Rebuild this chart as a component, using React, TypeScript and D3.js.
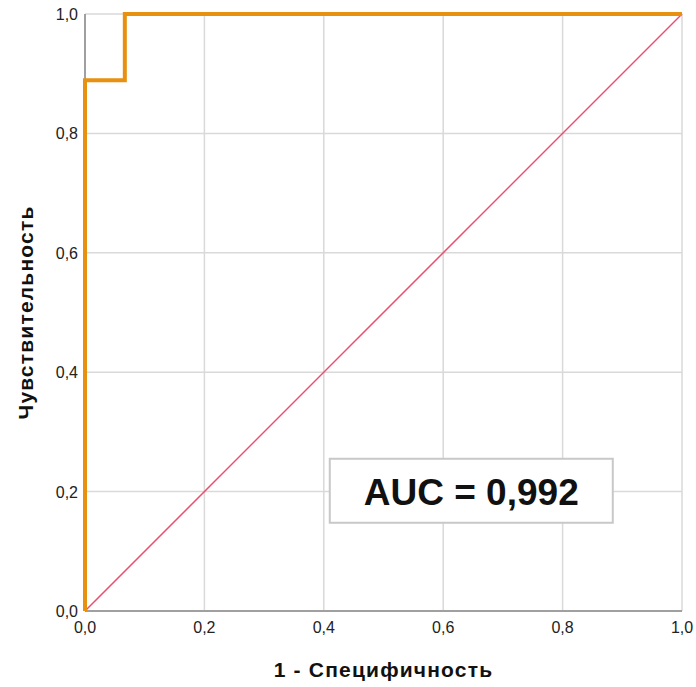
import React, { useRef, useEffect } from 'react';
import * as d3 from 'd3';

// ROC curve points (1 - specificity, sensitivity)
const fpr = [0, 0, 0.0667, 0.0667, 1];
const tpr = [0, 0.889, 0.889, 1, 1];
const ticks = [0, 0.2, 0.4, 0.6, 0.8, 1.0];
const aucLabel = 'AUC = 0,992';

const App = () => {
    const ref = useRef<SVGSVGElement>(null);

    useEffect(() => {
        if (!ref.current) return;
        const svg = d3.select(ref.current);
        svg.selectAll('*').remove();

        const margin = { top: 14, right: 14, bottom: 76, left: 85 };
        const W = 696, H = 687;
        const x = d3.scaleLinear().domain([0, 1]).range([margin.left, W - margin.right]);
        const y = d3.scaleLinear().domain([0, 1]).range([H - margin.bottom, margin.top]);
        const fmt = (d: number) => d.toFixed(1).replace('.', ',');
        const font = 'Arial, "Liberation Sans", sans-serif';

        const g = svg.append('g');

        // grid
        g.selectAll('.vg').data(ticks).join('line')
            .attr('x1', d => x(d)).attr('x2', d => x(d))
            .attr('y1', y(0)).attr('y2', y(1))
            .attr('stroke', '#d9d9d9').attr('stroke-width', 1.5);
        g.selectAll('.hg').data(ticks).join('line')
            .attr('y1', d => y(d)).attr('y2', d => y(d))
            .attr('x1', x(0)).attr('x2', x(1))
            .attr('stroke', '#d9d9d9').attr('stroke-width', 1.5);

        // axes lines
        g.append('line').attr('x1', x(0)).attr('x2', x(1)).attr('y1', y(0)).attr('y2', y(0))
            .attr('stroke', '#a0a0a0').attr('stroke-width', 2);
        g.append('line').attr('x1', x(0)).attr('x2', x(0)).attr('y1', y(0)).attr('y2', y(1))
            .attr('stroke', '#a0a0a0').attr('stroke-width', 2);

        // tick labels
        g.selectAll('.xt').data(ticks).join('text')
            .attr('x', d => x(d)).attr('y', y(0) + 22)
            .attr('text-anchor', 'middle')
            .style('font', `16px ${font}`)
            .attr('fill', '#222')
            .text(d => fmt(d));
        g.selectAll('.yt').data(ticks).join('text')
            .attr('x', x(0) - 7).attr('y', d => y(d) + 6)
            .attr('text-anchor', 'end')
            .style('font', `16px ${font}`)
            .attr('fill', '#222')
            .text(d => fmt(d));

        // diagonal
        g.append('line').attr('x1', x(0)).attr('y1', y(0)).attr('x2', x(1)).attr('y2', y(1))
            .attr('stroke', '#e8506e').attr('stroke-width', 1.5);

        // ROC
        const line = d3.line<number>().x((_, i) => x(fpr[i])).y(d => y(d));
        g.append('path').datum(tpr).attr('d', line)
            .attr('fill', 'none').attr('stroke', '#e8900f')
            .attr('stroke-width', 4).attr('stroke-linejoin', 'miter');

        // AUC box
        const bx = x(0.41), by = y(0.255), bw = 283, bh = 64;
        g.append('rect').attr('x', bx).attr('y', by).attr('width', bw).attr('height', bh)
            .attr('fill', 'white').attr('stroke', '#c8c8c8').attr('stroke-width', 2);
        g.append('text').attr('x', bx + bw / 2).attr('y', by + bh / 2 + 14)
            .attr('text-anchor', 'middle')
            .style('font', `bold 37px ${font}`)
            .attr('fill', '#111')
            .text(aucLabel);

        // axis titles
        g.append('text').attr('x', (x(0) + x(1)) / 2).attr('y', 677)
            .attr('text-anchor', 'middle')
            .style('font', `bold 21px ${font}`)
            .style('letter-spacing', '1.2px')
            .attr('fill', '#111')
            .text('1 - Специфичность');
        g.append('text')
            .attr('transform', `translate(33,${(y(0) + y(1)) / 2}) rotate(-90)`)
            .attr('text-anchor', 'middle')
            .style('font', `bold 21px ${font}`)
            .style('letter-spacing', '1.2px')
            .attr('fill', '#111')
            .text('Чувствительность');
    }, []);

    return <svg ref={ref} width={696} height={687} style={{ position: 'absolute', left: 0, top: 0 }} />;
};

export default App;
